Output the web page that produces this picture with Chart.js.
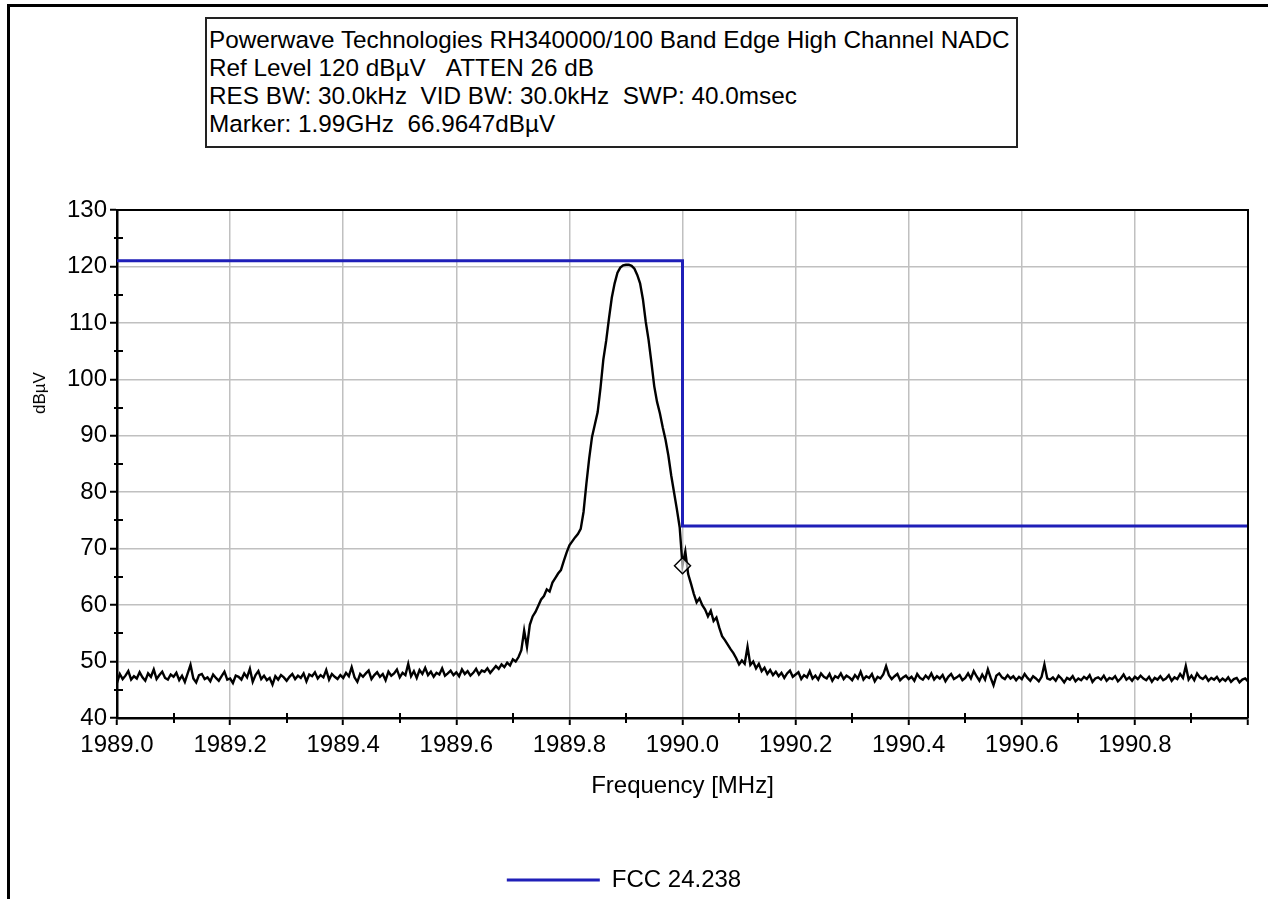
<!DOCTYPE html>
<html>
<head>
<meta charset="utf-8">
<script src="https://cdn.jsdelivr.net/npm/chart.js@4.4.1/dist/chart.umd.min.js"></script>
<style>
  html, body { margin: 0; padding: 0; background: #fff; overflow: hidden; }
  #page { position: relative; width: 1268px; height: 899px; overflow: hidden; background: #fff; }
  #frame { position: absolute; left: 7px; top: 4px; width: 1300px; height: 950px;
           border-left: 3px solid #000; border-top: 3px solid #000; }
  #chart { position: absolute; left: 0; top: 0; }
  #info { position: absolute; left: 205px; top: 17px; width: 807px; height: 120px;
          padding: 7px 0 0 2px; border: 2px solid #222; background: #fff;
          font-family: "Liberation Sans", Arial, sans-serif; font-size: 24.3px; line-height: 28px;
          color: #000; white-space: nowrap; }
  #ylab { position: absolute; left: 40px; top: 393px; transform: translate(-50%, -50%) rotate(-90deg);
          font-family: "Liberation Sans", Arial, sans-serif; font-size: 17px; color: #000; white-space: nowrap; }
</style>
</head>
<body>
<div id="page">
  <div id="frame"></div>
  <canvas id="chart" width="1268" height="905"></canvas>
  <div id="info"></div>
  <div id="ylab">dBµV</div>
</div>
<script>
// Analyzer header text
const infoLines = [
  'Powerwave Technologies RH340000/100 Band Edge High Channel NADC',
  'Ref Level 120 dBµV \u00a0\u00a0ATTEN 26 dB',
  'RES BW: 30.0kHz \u00a0VID BW: 30.0kHz \u00a0SWP: 40.0msec',
  'Marker: 1.99GHz \u00a066.9647dBµV'
];

// Sweep: 1989.0 .. 1991.0 MHz, 401 points
const sweepStartMHz = 1989.0;
const sweepStepMHz = 0.005;
const traceLevels = [
  46.2, 47.8, 46.9, 47.5, 48.3, 46.8, 47.4, 47.0, 48.1, 47.2,
  46.6, 47.9, 47.3, 48.6, 46.9, 47.6, 48.2, 47.1, 46.8, 47.7,
  47.3, 48.0, 46.7, 47.5, 46.4, 47.9, 49.4, 47.0, 46.3, 47.6,
  47.8, 46.9, 47.2, 46.5, 47.7, 47.1, 46.6, 47.4, 48.2, 46.8,
  47.0, 46.2, 47.5, 47.3, 46.8, 47.9, 47.2, 48.7, 46.4, 47.6,
  48.3, 46.9, 47.5, 46.7, 47.1, 45.9, 47.4, 46.8, 47.6, 47.2,
  46.6, 47.3, 47.8, 46.9, 47.5, 47.1, 47.9, 46.5, 47.7, 47.4,
  48.1, 47.0, 47.6, 47.2, 48.5, 46.8, 47.8, 47.3, 46.9, 47.6,
  47.1, 48.0, 47.4, 49.0, 47.2, 46.4, 47.8, 47.3, 47.9, 48.4,
  46.9, 47.6, 48.1, 47.3, 47.8, 46.7, 48.2, 47.5, 47.9, 48.6,
  47.2, 48.0, 47.6, 49.6, 47.4, 48.3, 47.1, 48.5, 47.8, 48.9,
  47.6, 48.2, 47.3, 48.0, 47.7, 48.8, 47.5, 47.9, 48.4, 47.6,
  48.1, 47.4, 48.6, 47.8, 48.3, 47.5, 48.0, 48.7, 47.7, 48.4,
  48.2, 48.8, 48.0, 48.6, 49.2, 48.7, 49.5, 49.0, 49.8, 49.3,
  50.4, 50.0, 50.8, 52.0, 55.5, 52.6, 56.5, 58.0, 58.8, 59.9,
  61.0, 61.6, 62.8, 62.4, 64.0, 64.8, 65.6, 66.2, 67.8, 69.3,
  70.6, 71.3, 72.0, 72.6, 73.5, 76.5, 81.5, 86.0, 89.8, 92.0,
  94.2, 98.5, 103.5, 106.8, 110.8, 114.5, 117.0, 118.9, 119.8, 120.2,
  120.3, 120.3, 120.1, 119.6, 118.5, 117.0, 114.2, 110.2, 107.0, 103.0,
  98.8, 96.0, 94.0, 91.5, 89.3, 86.5, 83.0, 80.0, 77.0, 73.8,
  67.0, 69.5, 65.5, 63.8, 62.0, 60.5, 61.2, 60.0, 59.2, 58.0,
  59.0, 57.2, 57.8, 56.0, 54.5, 53.8, 53.0, 52.2, 51.5, 50.6,
  49.5, 50.2, 49.6, 52.6, 49.4, 50.0, 48.8, 49.6, 48.3, 48.9,
  47.8,
  48.5, 47.6, 48.2, 47.4, 48.0, 47.1, 47.9, 48.4, 47.3, 47.7,
  48.1, 46.9, 47.6, 47.2, 48.3, 47.0, 47.5, 46.8, 47.9, 47.3,
  47.0, 47.8, 46.6, 47.4, 47.1, 47.9, 46.9, 47.5, 47.2, 46.7,
  47.6, 47.0, 48.2, 46.8, 47.4, 47.1, 47.8, 46.5, 47.3, 47.0,
  47.7, 49.2, 47.6, 46.9, 47.4, 47.8, 46.7, 47.2, 47.5, 46.9,
  47.3, 46.6, 47.8, 47.1, 46.8, 47.5, 47.0, 47.9, 46.8, 47.4,
  47.0, 47.6, 46.5, 47.3, 47.8, 46.9, 47.2, 47.6, 46.7, 47.1,
  47.9, 47.0, 48.3, 47.4, 46.6, 47.7, 46.8, 48.6, 47.1, 45.8,
  47.5, 47.9, 47.2, 46.9, 47.6, 47.0, 47.4, 46.7, 47.3, 46.9,
  47.8, 47.1, 46.6, 47.4, 47.0, 46.5, 47.3, 49.5, 47.0, 46.8,
  47.2, 46.6, 47.5, 47.0, 46.3, 47.1, 46.8, 47.4, 46.5, 47.0,
  46.7, 47.3, 46.9, 47.6, 46.4, 47.0, 47.2, 46.8, 47.5, 46.6,
  47.1, 46.9, 47.4, 46.5, 47.0, 47.7, 46.8, 47.2, 46.6, 47.3,
  46.9, 47.5, 47.0, 46.7, 47.3, 46.4, 47.1, 46.8, 47.4, 46.7,
  47.0, 47.6, 46.6, 47.2, 46.9, 47.8, 47.1, 49.2, 46.8, 47.5,
  46.7, 47.9, 47.2, 46.9, 47.4, 46.6, 47.1, 46.8, 47.3, 46.5,
  47.0, 46.6, 47.2, 46.4, 46.9, 47.1, 46.3, 46.8, 47.0, 46.5
];

// FCC 24.238 emission mask
const limitName = 'FCC 24.238';
const limitFreqs = [1989.0, 1990.0, 1990.0, 1991.0];
const limitLevels = [121, 121, 74, 74];

// Marker
const markerFreq = 1990.0;
const markerLevel = 66.9647;

// Axes
const xMin = 1989.0, xMax = 1991.0, xMinorStep = 0.1;
const yMin = 40, yMax = 130, yMinorStep = 5;
const xTitle = 'Frequency [MHz]';

document.getElementById('info').innerHTML = infoLines.map(t => '<div>' + t + '</div>').join('');

const isMajorX = v => Math.round(v * 10) % 2 === 0;
const isMajorY = v => Math.round(v) % 10 === 0;

const tracePoints = traceLevels.map((v, i) => ({ x: +(sweepStartMHz + i * sweepStepMHz).toFixed(3), y: v }));
const limitPoints = limitFreqs.map((f, i) => ({ x: f, y: limitLevels[i] }));

const FONT = '"Liberation Sans", Arial, sans-serif';
const GRID = '#c0c0c0';

// plot frame (top/right) and small minor tick marks crossing the axes
const frameAndMinorTicks = {
  id: 'frameAndMinorTicks',
  afterDraw(chart) {
    const { ctx, chartArea: a, scales } = chart;
    const x = scales.x, y = scales.y;
    ctx.save();
    ctx.strokeStyle = '#000';
    ctx.lineWidth = 2;
    ctx.beginPath();
    ctx.moveTo(a.left, a.top);
    ctx.lineTo(a.right, a.top);
    ctx.lineTo(a.right, a.bottom);
    ctx.stroke();
    ctx.beginPath();
    y.ticks.forEach(t => {
      if (!isMajorY(t.value)) {
        const py = Math.round(y.getPixelForValue(t.value));
        ctx.moveTo(a.left - 3, py); ctx.lineTo(a.left + 6, py);
      }
    });
    x.ticks.forEach(t => {
      if (!isMajorX(t.value)) {
        const px = Math.round(x.getPixelForValue(t.value));
        ctx.moveTo(px, a.bottom - 5); ctx.lineTo(px, a.bottom + 5);
      }
    });
    ctx.stroke();
    ctx.restore();
  }
};

new Chart(document.getElementById('chart'), {
  type: 'line',
  data: {
    datasets: [
      {
        label: 'Trace',
        data: tracePoints,
        borderColor: '#000',
        borderWidth: 2.4,
        pointRadius: 0,
        tension: 0,
        order: 2
      },
      {
        label: limitName,
        data: limitPoints,
        borderColor: '#1f1fb8',
        borderWidth: 3,
        pointRadius: 0,
        tension: 0,
        order: 1
      },
      {
        label: 'Marker',
        data: [{ x: markerFreq, y: markerLevel }],
        showLine: false,
        pointStyle: 'rectRot',
        pointRadius: 8,
        pointBorderWidth: 1.5,
        pointBorderColor: '#000',
        pointBackgroundColor: 'rgba(255,255,255,0.6)',
        order: 0
      }
    ]
  },
  options: {
    responsive: false,
    devicePixelRatio: 1,
    animation: false,
    events: [],
    layout: { padding: { top: 210, right: 20, bottom: 3, left: 0 } },
    scales: {
      x: {
        type: 'linear',
        min: xMin,
        max: xMax,
        afterFit: s => { s.height = 144; },
        border: { color: '#000', width: 2.5 },
        grid: {
          color: c => (c.tick && isMajorX(c.tick.value)) ? GRID : 'rgba(0,0,0,0)',
          lineWidth: 1.5,
          tickLength: 7,
          tickWidth: 2,
          tickColor: c => (c.tick && isMajorX(c.tick.value)) ? '#000' : 'rgba(0,0,0,0)'
        },
        ticks: {
          stepSize: xMinorStep,
          autoSkip: false,
          maxRotation: 0,
          padding: 6,
          color: '#000',
          font: { family: FONT, size: 24 },
          callback: v => (isMajorX(v) && v < xMax - 0.05) ? Number(v).toFixed(1) : ''
        },
        title: {
          display: true,
          text: xTitle,
          color: '#000',
          font: { family: FONT, size: 24 },
          padding: { top: 0, bottom: 61 }
        }
      },
      y: {
        min: yMin,
        max: yMax,
        afterFit: s => { s.width = 117; },
        border: { color: '#000', width: 2.5 },
        grid: {
          color: c => (c.tick && isMajorY(c.tick.value)) ? GRID : 'rgba(0,0,0,0)',
          lineWidth: 1.5,
          tickLength: 7,
          tickWidth: 2,
          tickColor: c => (c.tick && isMajorY(c.tick.value)) ? '#000' : 'rgba(0,0,0,0)'
        },
        ticks: {
          stepSize: yMinorStep,
          autoSkip: false,
          padding: 3,
          color: '#000',
          font: { family: FONT, size: 24 },
          callback: v => isMajorY(v) ? String(v) : ''
        }
      }
    },
    plugins: {
      tooltip: { enabled: false },
      legend: {
        position: 'bottom',
        labels: {
          filter: item => item.text === limitName,
          usePointStyle: true,
          pointStyle: 'line',
          pointStyleWidth: 93,
          padding: 6,
          color: '#000',
          font: { family: FONT, size: 24 }
        }
      }
    }
  },
  plugins: [frameAndMinorTicks]
});
</script>
</body>
</html>
